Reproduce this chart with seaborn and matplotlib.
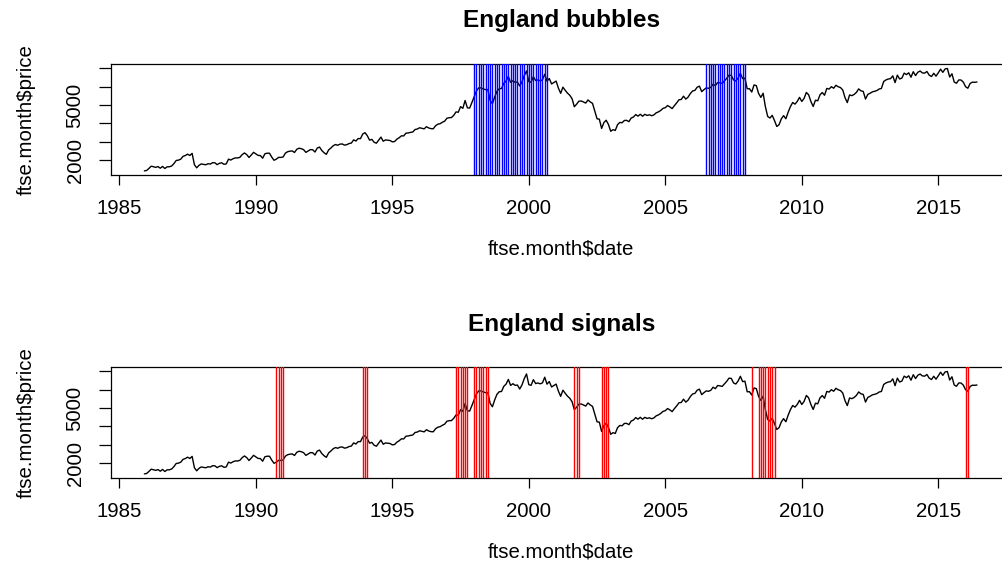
import pandas as pd
import matplotlib
matplotlib.use('Agg')
import matplotlib.pyplot as plt
import seaborn as sns

# monthly FTSE 100 level, first value is Dec 1985, last is Jun 2016
start_month = '1985-12'
price = [
    1413,
    1435, 1545, 1668, 1640, 1603, 1649, 1558, 1656, 1542, 1633, 1636, 1679,   # 1986
    1809, 1980, 1997, 2051, 2203, 2248, 2323, 2250, 2366, 1749, 1580, 1713,   # 1987
    1790, 1769, 1745, 1802, 1784, 1857, 1853, 1753, 1826, 1852, 1771, 1793,   # 1988
    2052, 2002, 2075, 2119, 2115, 2152, 2297, 2388, 2299, 2142, 2276, 2423,   # 1989
    2337, 2255, 2247, 2103, 2345, 2375, 2374, 2163, 1990, 2050, 2149, 2144,   # 1990
    2170, 2380, 2457, 2486, 2499, 2414, 2588, 2645, 2621, 2567, 2420, 2493,   # 1991
    2571, 2562, 2440, 2654, 2708, 2521, 2400, 2313, 2553, 2658, 2779, 2847,   # 1992
    2807, 2868, 2878, 2813, 2840, 2900, 2927, 3100, 3038, 3171, 3167, 3418,   # 1993
    3491, 3328, 3086, 3126, 2971, 2919, 3082, 3251, 3027, 3097, 3081, 3066,   # 1994
    2992, 3010, 3137, 3216, 3320, 3315, 3464, 3477, 3508, 3529, 3664, 3690,   # 1995
    3759, 3727, 3699, 3817, 3747, 3711, 3703, 3867, 3953, 3980, 4058, 4119,   # 1996
    4276, 4308, 4313, 4436, 4621, 4604, 4907, 4817, 5244, 4842, 4831, 5136,   # 1997
    5458, 5767, 5932, 5928, 5870, 5833, 5837, 5249, 5064, 5438, 5743, 5883,   # 1998
    5896, 6175, 6296, 6552, 6226, 6319, 6231, 6246, 6030, 6255, 6597, 6850,   # 1999
    6268, 6232, 6540, 6327, 6359, 6313, 6365, 6673, 6294, 6438, 6142, 6222,   # 2000
    6298, 5918, 5634, 5967, 5796, 5643, 5529, 5345, 4903, 5040, 5204, 5217,   # 2001
    5165, 5101, 5272, 5166, 5086, 4656, 4246, 4227, 3722, 4039, 4169, 3940,   # 2002
    3567, 3656, 3613, 3926, 4049, 4031, 4157, 4161, 4091, 4288, 4343, 4477,   # 2003
    4390, 4492, 4386, 4489, 4431, 4464, 4413, 4459, 4571, 4624, 4703, 4814,   # 2004
    4852, 4968, 4894, 4801, 4964, 5113, 5282, 5297, 5478, 5317, 5423, 5619,   # 2005
    5760, 5792, 5965, 6023, 5723, 5833, 5928, 5906, 5961, 6129, 6049, 6221,   # 2006
    6203, 6172, 6308, 6449, 6622, 6608, 6360, 6303, 6467, 6722, 6433, 6457,   # 2007
    5880, 5884, 5702, 6087, 6054, 5626, 5412, 5637, 4902, 4377, 4288, 4434,   # 2008
    4150, 3830, 3926, 4244, 4418, 4249, 4608, 4909, 5134, 5045, 5191, 5413,   # 2009
    5189, 5355, 5680, 5553, 5188, 4917, 5258, 5225, 5549, 5675, 5528, 5900,   # 2010
    5863, 5994, 5909, 6070, 5990, 5946, 5815, 5395, 5128, 5544, 5505, 5572,   # 2011
    5682, 5872, 5768, 5738, 5321, 5571, 5635, 5711, 5742, 5783, 5867, 5898,   # 2012
    6277, 6361, 6412, 6430, 6583, 6215, 6621, 6413, 6462, 6731, 6651, 6749,   # 2013
    6510, 6810, 6598, 6780, 6845, 6744, 6730, 6820, 6623, 6546, 6723, 6566,   # 2014
    6749, 6946, 6773, 6961, 6985, 6521, 6696, 6248, 6180, 6361, 6356, 6242,   # 2015
    5990, 5910, 6170, 6240, 6230, 6250,                                       # 2016
]

# months flagged as bubbles (blue) and as signals (red)
bubble_months = [
    '1998-01', '1998-02', '1998-03', '1998-04', '1998-05', '1998-06',
    '1998-07', '1998-08', '1998-09', '1998-10', '1998-11', '1998-12',
    '1999-01', '1999-02', '1999-03', '1999-04', '1999-05', '1999-06',
    '1999-07', '1999-08', '1999-09', '1999-10', '1999-11', '1999-12',
    '2000-01', '2000-02', '2000-03', '2000-04', '2000-05', '2000-06',
    '2000-07', '2000-08', '2000-09',
    '2006-07', '2006-08', '2006-09', '2006-10', '2006-11', '2006-12',
    '2007-01', '2007-02', '2007-03', '2007-04', '2007-05', '2007-06',
    '2007-07', '2007-08', '2007-09', '2007-10', '2007-11', '2007-12',
]
signal_months = [
    '1990-10', '1990-11', '1990-12', '1991-01',
    '1993-12', '1994-01', '1994-02',
    '1997-05', '1997-06', '1997-07', '1997-08', '1997-09', '1997-10',
    '1998-01', '1998-02', '1998-03', '1998-04', '1998-05', '1998-06', '1998-07',
    '2001-09', '2001-10', '2001-11',
    '2002-09', '2002-10', '2002-11', '2002-12',
    '2008-03',
    '2008-06', '2008-07', '2008-08', '2008-09', '2008-10', '2008-11', '2008-12', '2009-01',
    '2016-01', '2016-02',
]

x_ticks = [1985, 1990, 1995, 2000, 2005, 2010, 2015]
y_ticks = [2000, 3000, 4000, 5000, 6000, 7000]
y_tick_labels = ['2000', '', '', '5000', '', '']


def to_year(months):
    p = pd.PeriodIndex(months, freq='M')
    return p.year + (p.month - 1) / 12


dates = pd.period_range(start_month, periods=len(price), freq='M')
df = pd.DataFrame({'date': dates.year + (dates.month - 1) / 12, 'price': price})

sns.set_theme(style='white')
plt.rcParams['font.family'] = ['Liberation Sans', 'DejaVu Sans']
plt.rcParams['text.color'] = 'black'
plt.rcParams['axes.labelcolor'] = 'black'

fig = plt.figure(figsize=(10.03, 5.65), dpi=100)
ax1 = fig.add_axes([0.1104, 0.6903, 0.8983, 0.1965])
ax2 = fig.add_axes([0.1104, 0.1540, 0.8983, 0.1965])


def panel(ax, title, months, color):
    sns.lineplot(data=df, x='date', y='price', ax=ax, color='black', linewidth=1.0, zorder=2)
    for m in to_year(months):
        ax.axvline(m, color=color, linewidth=1.0, zorder=3)
    ax.set_xlim(1984.685, 2017.69)
    ax.set_ylim(1190, 7230)
    ax.set_xticks(x_ticks)
    ax.set_xticklabels([str(t) for t in x_ticks])
    ax.set_yticks(y_ticks)
    ax.set_yticklabels(y_tick_labels, rotation=90, va='center')
    ax.tick_params(axis='x', bottom=True, length=7.2, width=0.9, pad=10,
                   labelsize=14.7, colors='black')
    ax.tick_params(axis='y', left=True, length=8.8, width=0.9, pad=10,
                   labelsize=14.7, colors='black')
    for s in ax.spines.values():
        s.set_visible(True)
        s.set_color('black')
        s.set_linewidth(0.9)
    ax.set_xlabel('ftse.month$date', fontsize=14.7, color='black')
    ax.xaxis.set_label_coords(0.5, -0.664)
    ax.xaxis.label.set_va('center')
    ax.set_ylabel('ftse.month$price', fontsize=14.7, color='black')
    ax.yaxis.set_label_coords(-0.094, 0.5)
    ax.yaxis.label.set_va('center')
    ax.set_title(title, fontsize=17.6, fontweight='bold', color='black',
                 y=1.387, va='center', pad=0)
    ax.grid(False)


panel(ax1, 'England bubbles', bubble_months, 'blue')
panel(ax2, 'England signals', signal_months, 'red')

fig.savefig('out.png', dpi=100)
